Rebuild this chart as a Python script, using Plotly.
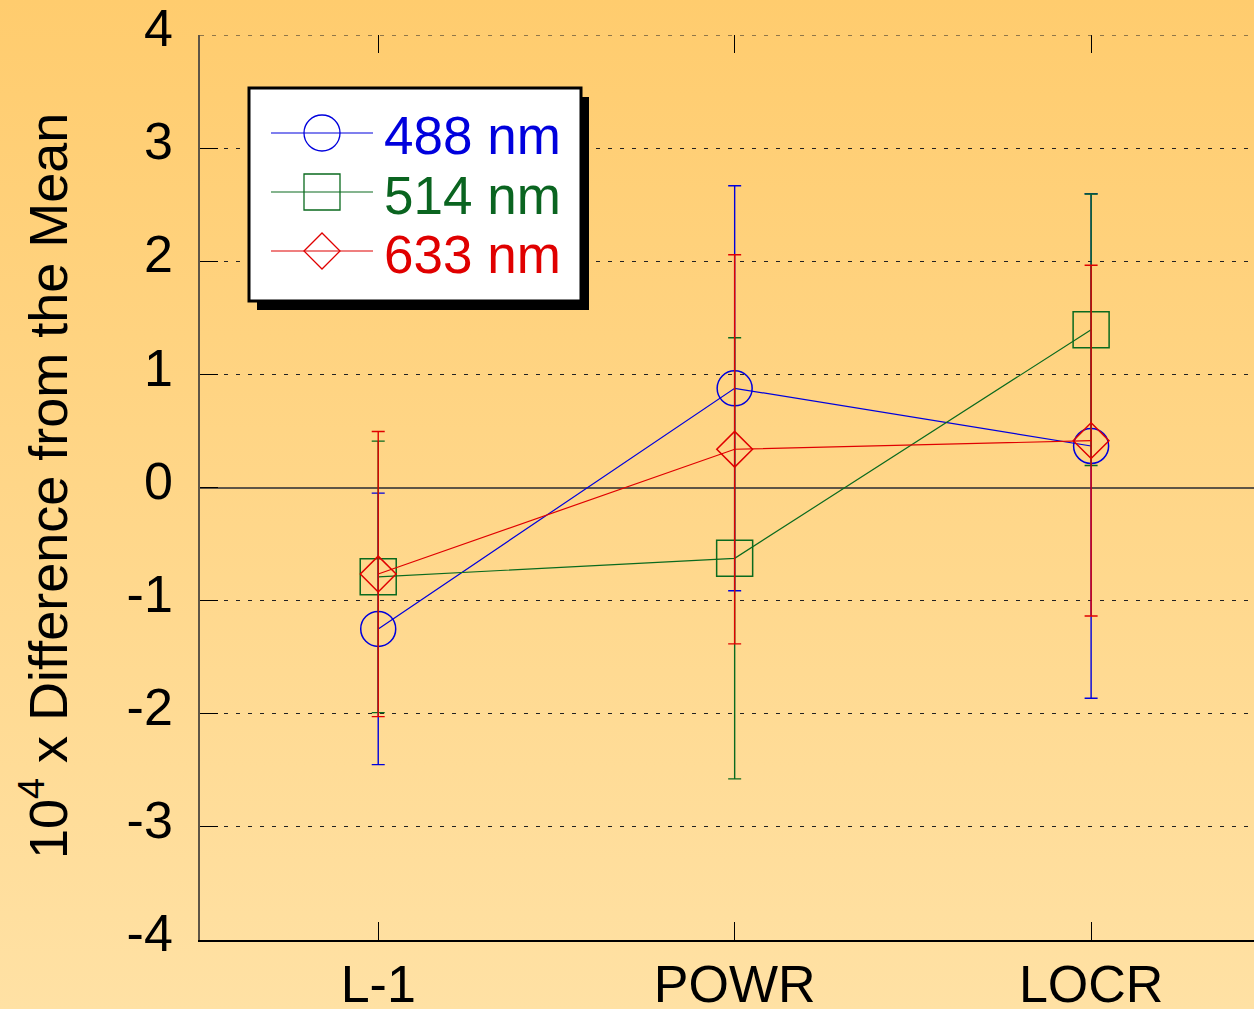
import base64
import plotly.graph_objects as go

# ---- data ----
categories = ["L-1", "POWR", "LOCR"]
x_pos = [0, 1, 2]
series_names = ["488 nm", "514 nm", "633 nm"]
blue_vals = [-1.25, 0.877, 0.367]
blue_err = [1.20, 1.79, 2.23]
green_vals = [-0.79, -0.626, 1.395]
green_err = [1.20, 1.95, 1.20]
red_vals = [-0.765, 0.338, 0.414]
red_err = [1.26, 1.72, 1.55]
y_ticks = [-4, -3, -2, -1, 0, 1, 2, 3, 4]
y_tick_labels = ["-4", "-3", "-2", "-1", "0", "1", "2", "3", "4"]

colors = ["#0000DD", "#0A6A1E", "#E00000"]
text_colors = ["#0000DD", "#0A6420", "#E00000"]
symbols = ["circle-open", "square-open", "diamond-open"]
sizes = [35, 36, 27.5]
vals = [blue_vals, green_vals, red_vals]
errs = [blue_err, green_err, red_err]

FONT = "Liberation Sans, Arial, Helvetica, sans-serif"
W, H = 1254, 1009
L, R, T, B = 200, 0, 35, 69
PW, PH = W - L - R, H - T - B


def px(x):
    return (x - L) / PW


def py(y):
    return (H - B - y) / PH


fig = go.Figure()
for name, v, e, c, s, sz in zip(series_names, vals, errs, colors, symbols, sizes):
    fig.add_trace(go.Scatter(
        x=x_pos, y=v, name=name, mode="lines+markers",
        line=dict(color=c, width=1.2),
        marker=dict(symbol=s, size=sz, color=c, line=dict(color=c, width=1.5)),
        error_y=dict(type="data", array=e, visible=True, color=c,
                     thickness=1.4, width=6.5),
        showlegend=False, hoverinfo="x+y",
    ))
# empty trace so the top (mirrored) category axis is drawn
fig.add_trace(go.Scatter(x=x_pos, y=[None] * len(x_pos), xaxis="x2",
                         mode="lines", showlegend=False, hoverinfo="skip"))

# gradient background
svg = ('<svg xmlns="http://www.w3.org/2000/svg" width="100" height="100" '
       'preserveAspectRatio="none"><defs><linearGradient id="g" x1="0" y1="0" '
       'x2="0" y2="1"><stop offset="0" stop-color="#FFCC6E"/>'
       '<stop offset="1" stop-color="#FFE1A4"/></linearGradient></defs>'
       '<rect width="100" height="100" fill="url(#g)"/></svg>')
src = "data:image/svg+xml;base64," + base64.b64encode(svg.encode()).decode()

images = [dict(source=src, xref="paper", yref="paper", x=px(0), y=py(0),
               sizex=W / PW, sizey=H / PH, sizing="stretch",
               xanchor="left", yanchor="top", layer="below")]

# top gridline at y = 4 (plotly drops the edge gridline)
shapes = [dict(type="line", xref="paper", yref="y", x0=0, x1=1, y0=4, y1=4,
               line=dict(color="#222222", width=1, dash="4px,8px"))]

# custom legend
bx0, by0, bx1, by1 = 249, 88, 581, 301
shapes += [
    dict(type="rect", xref="paper", yref="paper", x0=px(bx0 + 8), x1=px(bx1 + 8),
         y0=py(by0 + 9), y1=py(by1 + 9), fillcolor="black", line=dict(width=0)),
    dict(type="rect", xref="paper", yref="paper", x0=px(bx0), x1=px(bx1),
         y0=py(by0), y1=py(by1), fillcolor="white",
         line=dict(color="black", width=3)),
]
annotations = []
rows = [133, 192, 251]
mx, half = 322, 18
for i, (name, c, tc, ry) in enumerate(zip(series_names, colors, text_colors, rows)):
    shapes.append(dict(type="line", xref="paper", yref="paper",
                       x0=px(271), x1=px(373), y0=py(ry), y1=py(ry),
                       line=dict(color=c, width=1.2)))
    if i == 0:
        shapes.append(dict(type="circle", xref="paper", yref="paper",
                           x0=px(mx - half), x1=px(mx + half),
                           y0=py(ry - half), y1=py(ry + half),
                           line=dict(color=c, width=1.3)))
    elif i == 1:
        shapes.append(dict(type="rect", xref="paper", yref="paper",
                           x0=px(mx - half), x1=px(mx + half),
                           y0=py(ry - half), y1=py(ry + half),
                           line=dict(color=c, width=1.3)))
    else:
        path = "M {},{} L {},{} L {},{} L {},{} Z".format(
            px(mx - half), py(ry), px(mx), py(ry - half),
            px(mx + half), py(ry), px(mx), py(ry + half))
        shapes.append(dict(type="path", xref="paper", yref="paper", path=path,
                           line=dict(color=c, width=1.3)))
    annotations.append(dict(xref="paper", yref="paper", x=px(382), y=py(ry + 3),
                            xanchor="left", yanchor="middle", text=name,
                            showarrow=False,
                            font=dict(family=FONT, size=53, color=tc)))

annotations.append(dict(xref="paper", yref="paper", x=px(44), y=py(486),
                        xanchor="center", yanchor="middle", textangle=-90,
                        text="10<sup>4</sup> x Difference from the Mean",
                        showarrow=False,
                        font=dict(family=FONT, size=54, color="black")))

fig.update_layout(
    width=W, height=H,
    margin=dict(l=L, r=R, t=T, b=B, pad=0, autoexpand=False),
    paper_bgcolor="#FFD689",
    plot_bgcolor="rgba(0,0,0,0)",
    font=dict(family=FONT, size=52, color="black"),
    images=images, shapes=shapes, annotations=annotations,
    showlegend=False,
    xaxis=dict(range=[-0.5, 2.457], tickmode="array", tickvals=x_pos,
               ticktext=categories, ticks="inside", ticklen=18, tickwidth=1.3,
               tickcolor="black", showgrid=False, zeroline=False,
               showline=True, linecolor="black", linewidth=1.5,
               ticklabelstandoff=-2, tickfont=dict(size=52), automargin=False),
    xaxis2=dict(range=[-0.5, 2.457], overlaying="x", side="top",
                tickmode="array", tickvals=x_pos, ticks="inside", ticklen=18,
                tickwidth=1.3, tickcolor="black", showticklabels=False,
                showgrid=False, zeroline=False, showline=False,
                automargin=False),
    yaxis=dict(range=[-4, 4], tickmode="array", tickvals=y_ticks,
               ticktext=y_tick_labels,
               ticks="inside", ticklen=18, tickwidth=1.2, tickcolor="black",
               showgrid=True, gridcolor="#222222", gridwidth=1,
               griddash="4px,8px", zeroline=True, zerolinecolor="#5E5546",
               zerolinewidth=2, showline=True, linecolor="#5E5546",
               linewidth=1.5, ticklabelstandoff=15, ticklabelshift=-7,
               ticklabeloverflow="allow",
               tickfont=dict(size=52), automargin=False),
)

fig.write_html("out.html",
               config={"displayModeBar": False},
               post_script="document.body.style.margin='0';"
                           "document.body.style.padding='0';"
                           "document.documentElement.style.overflow='hidden';")
